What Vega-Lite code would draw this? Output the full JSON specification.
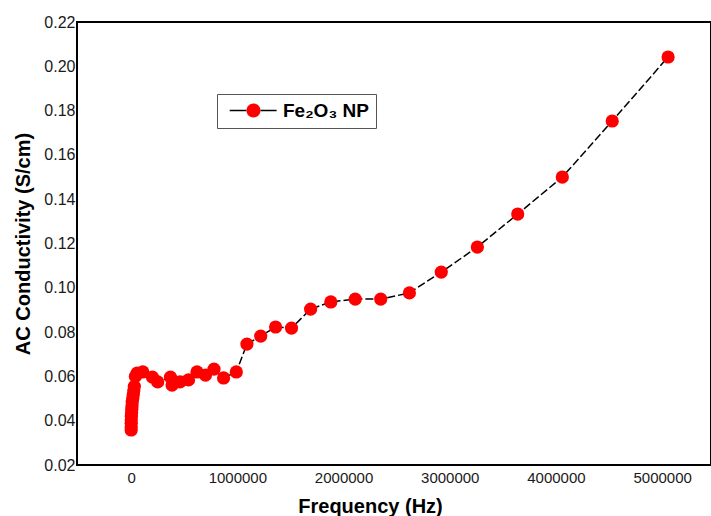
{
  "$schema": "https://vega.github.io/schema/vega-lite/v6.json",
  "width": 634,
  "height": 443,
  "autosize": "none",
  "padding": {"left": 77, "top": 22, "right": 0, "bottom": 51},
  "background": "white",
  "config": {
    "view": {"stroke": "black", "strokeWidth": 2},
    "font": "Liberation Sans",
    "axis": {"grid": false, "ticks": false, "domain": false, "labelFont": "Liberation Sans", "labelColor": "#1a1a1a", "titleFont": "Liberation Sans", "titleFontWeight": "bold", "titleColor": "black"}
  },
  "data": {
    "values": [
      {"frequency": 100, "conductivity": 0.0358},
      {"frequency": 300, "conductivity": 0.0372},
      {"frequency": 600, "conductivity": 0.0388},
      {"frequency": 1000, "conductivity": 0.0404},
      {"frequency": 2000, "conductivity": 0.042},
      {"frequency": 4000, "conductivity": 0.0436},
      {"frequency": 6000, "conductivity": 0.0452},
      {"frequency": 8000, "conductivity": 0.0468},
      {"frequency": 10000, "conductivity": 0.0484},
      {"frequency": 15000, "conductivity": 0.05},
      {"frequency": 20000, "conductivity": 0.0518},
      {"frequency": 25000, "conductivity": 0.0536},
      {"frequency": 30000, "conductivity": 0.0555},
      {"frequency": 40000, "conductivity": 0.06},
      {"frequency": 56000, "conductivity": 0.0615},
      {"frequency": 110000, "conductivity": 0.062},
      {"frequency": 200000, "conductivity": 0.0597},
      {"frequency": 250000, "conductivity": 0.0575},
      {"frequency": 370000, "conductivity": 0.0597},
      {"frequency": 385000, "conductivity": 0.0561},
      {"frequency": 460000, "conductivity": 0.0575},
      {"frequency": 540000, "conductivity": 0.0584},
      {"frequency": 620000, "conductivity": 0.062},
      {"frequency": 700000, "conductivity": 0.0606},
      {"frequency": 780000, "conductivity": 0.0633},
      {"frequency": 870000, "conductivity": 0.0593},
      {"frequency": 990000, "conductivity": 0.062},
      {"frequency": 1090000, "conductivity": 0.0746},
      {"frequency": 1220000, "conductivity": 0.0782},
      {"frequency": 1360000, "conductivity": 0.0823},
      {"frequency": 1510000, "conductivity": 0.0818},
      {"frequency": 1690000, "conductivity": 0.0904},
      {"frequency": 1880000, "conductivity": 0.0936},
      {"frequency": 2110000, "conductivity": 0.0949},
      {"frequency": 2350000, "conductivity": 0.0949},
      {"frequency": 2620000, "conductivity": 0.0977},
      {"frequency": 2920000, "conductivity": 0.1071},
      {"frequency": 3260000, "conductivity": 0.1184},
      {"frequency": 3640000, "conductivity": 0.1333},
      {"frequency": 4060000, "conductivity": 0.15},
      {"frequency": 4530000, "conductivity": 0.1753},
      {"frequency": 5056000, "conductivity": 0.2042}
    ]
  },
  "encoding": {
    "x": {
      "field": "frequency", "type": "quantitative",
      "scale": {"domain": [-510000, 5460000], "nice": false, "zero": false},
      "axis": {"values": [0, 1000000, 2000000, 3000000, 4000000, 5000000], "format": "d", "labelFontSize": 15, "labelPadding": 5, "title": "Frequency (Hz)", "titleFontSize": 20, "titlePadding": 11, "titleX": 293}
    },
    "y": {
      "field": "conductivity", "type": "quantitative",
      "scale": {"domain": [0.02, 0.22], "nice": false, "zero": false},
      "axis": {"values": [0.02, 0.04, 0.06, 0.08, 0.1, 0.12, 0.14, 0.16, 0.18, 0.2, 0.22], "format": ".2f", "labelFontSize": 16, "labelPadding": 2, "title": "AC Conductivity (S/cm)", "titleFontSize": 20, "titlePadding": 10}
    }
  },
  "layer": [
    {
      "mark": {"type": "line", "strokeWidth": 1.5, "strokeDash": [8, 3]},
      "encoding": {
        "stroke": {
          "datum": "line",
          "scale": {"range": ["black"]},
          "legend": {"orient": "none", "legendX": 140, "legendY": 72, "title": null, "padding": 7, "symbolType": "M-3.4,0H-1M1,0H3.3", "symbolSize": 196, "symbolOffset": 20, "symbolStrokeWidth": 1.5, "symbolDash": [1, 0], "labelOffset": 20, "labelExpr": "'Fe₂O₃ NP'", "labelFont": "Liberation Sans", "labelFontWeight": "bold", "labelFontSize": 19, "labelColor": "black", "strokeColor": "#555555", "fillColor": "white"}
        }
      }
    },
    {
      "mark": {"type": "point", "filled": true, "size": 175, "opacity": 1, "shape": "circle"},
      "encoding": {
        "fill": {
          "datum": "Fe₂O₃ NP",
          "scale": {"range": ["#ff0000"]},
          "legend": {"orient": "none", "legendX": 140, "legendY": 72, "title": null, "padding": 7, "symbolType": "M-1,0A1,1 0 1,1 1,0A1,1 0 1,1 -1,0Z", "symbolSize": 196, "symbolOffset": 20, "symbolStrokeWidth": 1.5, "symbolStrokeColor": "transparent", "symbolOpacity": 1, "labelOffset": 20, "labelFont": "Liberation Sans", "labelFontWeight": "bold", "labelFontSize": 19, "labelColor": "black", "labelOpacity": 0}
        }
      }
    }
  ]
}
